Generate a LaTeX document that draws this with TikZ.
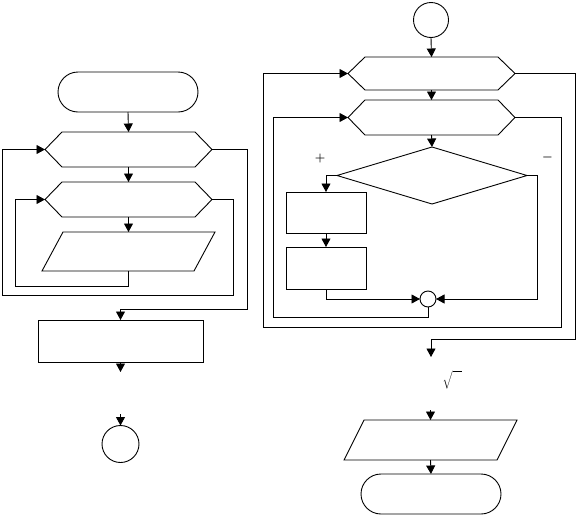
\documentclass[tikz,border=0pt]{standalone}
\usetikzlibrary{arrows.meta,shapes.misc,shapes.geometric}
\tikzset{
  lw/.style={line width=0.9pt},
  arr/.style={lw,-{Triangle[length=8.5pt,width=9pt]}},
  ghost/.style={rectangle,inner sep=0pt,outer sep=0pt},
  boxnode/.style={draw,lw,rectangle,inner sep=0pt,outer sep=0pt},
  term/.style={draw,lw,rounded rectangle,inner sep=0pt,outer sep=0pt,minimum width=140pt,minimum height=40pt},
  circnode/.style={draw,lw,circle,inner sep=0pt,outer sep=0pt},
  sign/.style={inner sep=0pt,font=\fontsize{13}{15}\selectfont\boldmath}
}
\newcommand\hexdraw[2]{\draw[lw] ([xshift=#2]#1.north west) -- ([xshift=-#2]#1.north east) -- (#1.east) -- ([xshift=-#2]#1.south east) -- ([xshift=#2]#1.south west) -- (#1.west) -- cycle;}
\newcommand\paradraw[2]{\draw[lw] ([xshift=#2]#1.north west) -- (#1.north east) -- ([xshift=-#2]#1.south east) -- (#1.south west) -- cycle;}
\begin{document}
\begin{tikzpicture}[x=1pt,y=-1pt]
\useasboundingbox (0,0) rectangle (576,517);
% ---------- left column ----------
\node[term] (lt) at (128,92) {};
\node[ghost,minimum width=167pt,minimum height=35pt] (lh1) at (128.5,149.5) {};
\node[ghost,minimum width=167pt,minimum height=35pt] (lh2) at (128.5,199.5) {};
\node[ghost,minimum width=173pt,minimum height=39pt] (lp) at (128.5,251.5) {};
\node[boxnode,minimum width=165pt,minimum height=42pt] (lr) at (120.5,341) {};
\node[circnode,minimum size=37pt] (lc) at (120.5,444) {};
\hexdraw{lh1}{17pt}
\hexdraw{lh2}{17pt}
\paradraw{lp}{21pt}
\coordinate (lrout) at (120.5,372);
\coordinate (lcin) at (120.5,414);
\draw[arr] (lt.south) -- (lh1.north);
\draw[arr] (lh1.south) -- (lh2.north);
\draw[arr] (lh2.south) -- (lp.north);
\draw[arr] (lp.south) |- (15,286) |- (lh2.west);
\draw[arr] (lh2.east) -| (233,295) -- (2,295) |- (lh1.west);
\draw[arr] (lh1.east) -| (247,309) -| (lr.north);
\draw[arr] (lr.south) -- (lrout);
\draw[arr] (lcin) -- (lc.north);
% ---------- right column ----------
\node[circnode,minimum size=35pt] (rc) at (431,20) {};
\node[ghost,minimum width=167pt,minimum height=33pt] (rh1) at (431.5,73.5) {};
\node[ghost,minimum width=167pt,minimum height=35pt] (rh2) at (431.5,117.5) {};
\node[ghost,minimum width=190pt,minimum height=57pt] (rd) at (432,175.5) {};
\node[boxnode,minimum width=80pt,minimum height=41pt] (rb1) at (326,212.5) {};
\node[boxnode,minimum width=80pt,minimum height=42pt] (rb2) at (326,268) {};
\node[circnode,minimum size=16pt] (rj) at (428,299) {};
\node[ghost,minimum width=173pt,minimum height=40pt] (rp) at (430.5,440) {};
\node[term] (rt) at (431,494) {};
\hexdraw{rh1}{17pt}
\hexdraw{rh2}{17pt}
\draw[lw] (rd.north) -- (rd.east) -- (rd.south) -- (rd.west) -- cycle;
\paradraw{rp}{20pt}
\node[sign] (plus) at (320,158) {$+$};
\node[sign] (minus) at (547.5,157) {$-$};
\node[inner sep=0pt,font=\fontsize{12}{14}\selectfont] (rs) at (452,380) {$\sqrt{\rule{0pt}{17pt}\hspace{9pt}}$};
\coordinate (rout) at (431,357);
\coordinate (rpin) at (430.5,410);
\draw[arr] (rc.south) -- (rh1.north);
\draw[arr] (rh1.south) -- (rh2.north);
\draw[arr] (rh2.south) -- (rd.north);
\draw[arr] (rd.west) -| (rb1.north);
\draw[arr] (rb1.south) -- (rb2.north);
\draw[arr] (rb2.south) |- (rj.west);
\draw[arr] (rd.east) -| (537,299) -- (rj.east);
\draw[arr] (rj.south) |- (273,317) |- (rh2.west);
\draw[arr] (rh2.east) -| (561,327) -- (263,327) |- (rh1.west);
\draw[arr] (rh1.east) -| (575,339) -| (rout);
\draw[arr] (rpin) -- (rp.north);
\draw[arr] (rp.south) -- (rt.north);
\end{tikzpicture}
\end{document}
